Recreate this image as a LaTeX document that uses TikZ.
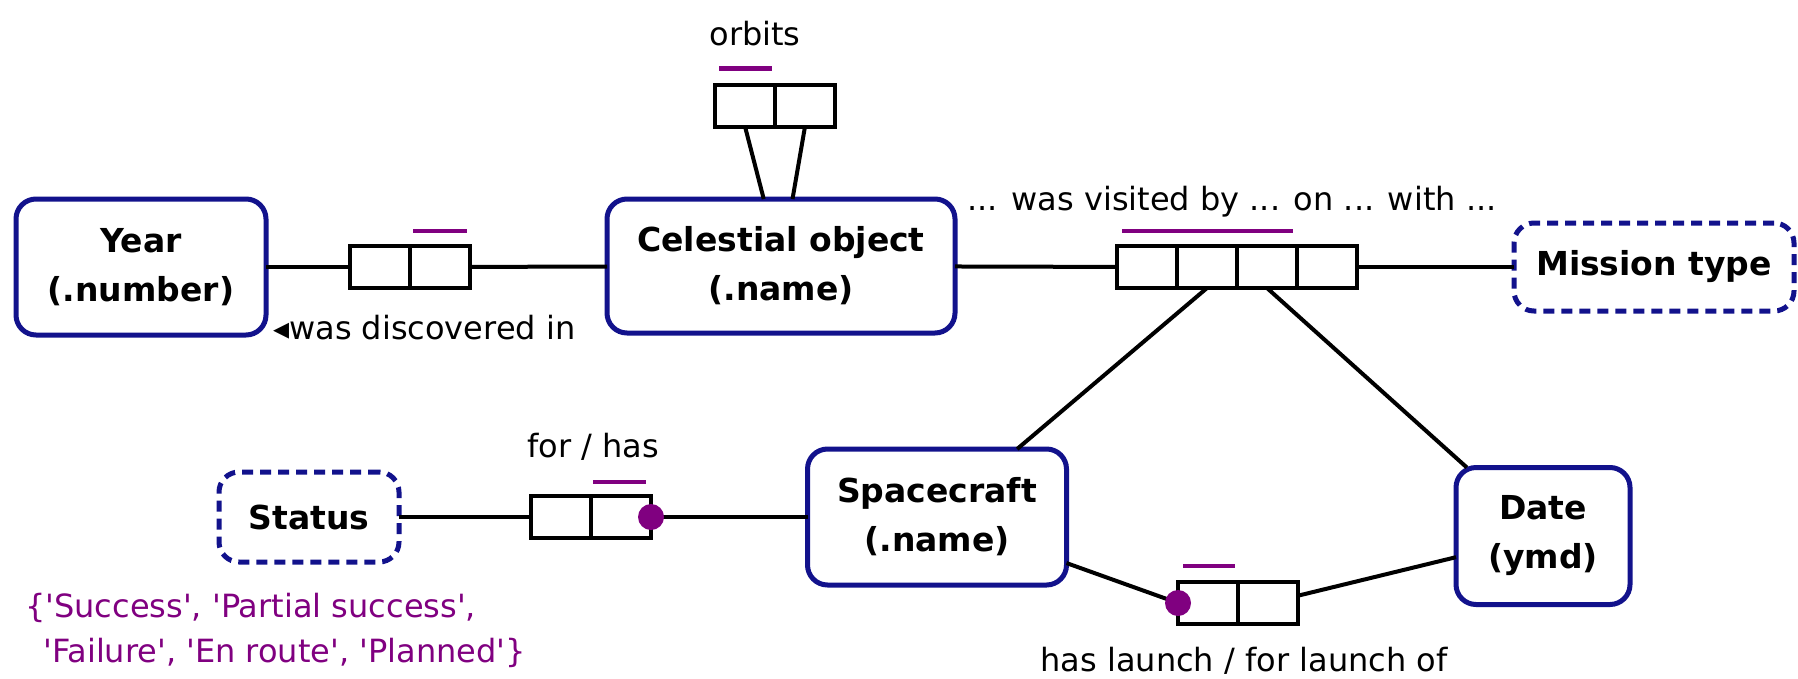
\documentclass[tikz,border=0pt]{standalone}
\usepackage{fontspec}
\setmainfont{DejaVu Sans}[Ligatures=TeXOff]
\usetikzlibrary{calc}

\definecolor{boxblue}{RGB}{18,18,140}
\definecolor{rolepurple}{RGB}{128,0,128}

\newcommand\entfont{\bfseries\fontsize{33}{49}\selectfont}
\newcommand\lblfont{\fontsize{32}{45}\selectfont}

\tikzset{
  entity/.style={draw=boxblue, line width=5pt, rounded corners=20pt,
    align=center, font=\entfont, inner sep=0pt, outer sep=0pt},
  valuetype/.style={entity, dash pattern=on 11pt off 7pt},
  cell/.style={draw=black, line width=4pt, minimum width=60pt,
    minimum height=42pt, inner sep=0pt, outer sep=0pt},
  link/.style={draw=black, line width=4pt},
  uniq/.style={draw=rolepurple, line width=4.5pt},
  mandatory/.style={circle, fill=rolepurple, minimum size=26pt, inner sep=0pt},
  lbl/.style={font=\lblfont, inner sep=0pt},
  values/.style={lbl, text=rolepurple}
}

\begin{document}
\begin{tikzpicture}[x=1pt, y=-1pt]
\useasboundingbox (0,0) rectangle (1798,678);

% entity types
\node[entity, minimum width=250pt, minimum height=136pt] (year) at (141,267) {Year\\(.number)};
\node[entity, minimum width=348pt, minimum height=134pt] (cel)  at (781,266) {Celestial object\\(.name)};
\node[entity, minimum width=259pt, minimum height=136pt] (sc)   at (937,517) {Spacecraft\\(.name)};
\node[entity, minimum width=174pt, minimum height=137pt] (date) at (1543,536) {Date\\(ymd)};

% value types
\node[valuetype, minimum width=280pt, minimum height=88pt] (mission) at (1654,267) {Mission type};
\node[valuetype, minimum width=180pt, minimum height=90pt] (status)  at (309,517) {Status};

% fact types (role boxes)
\node[cell, anchor=west] (d1) at (350,267) {};
\node[cell, anchor=west] (d2) at (d1.east) {};

\node[cell, anchor=west] (o1) at (715,105.5) {};
\node[cell, anchor=west] (o2) at (o1.east) {};

\node[cell, anchor=west] (v1) at (1117,267) {};
\node[cell, anchor=west] (v2) at (v1.east) {};
\node[cell, anchor=west] (v3) at (v2.east) {};
\node[cell, anchor=west] (v4) at (v3.east) {};

\node[cell, anchor=west] (f1) at (531,517) {};
\node[cell, anchor=west] (f2) at (f1.east) {};

\node[cell, anchor=west] (l1) at (1178,603) {};
\node[cell, anchor=west] (l2) at (l1.east) {};

% role connectors
\draw[link] (year) -- (d1);
\draw[link] (d2) -- (cel);
\draw[link] (o1.south) -- (cel);
\draw[link] (o2.south) -- (cel);
\draw[link] (cel) -- (v1);
\draw[link] (v4) -- (mission);
\draw[link] (v2.south) -- (sc);
\draw[link] (v3.south) -- (date);
\draw[link] (status) -- (f1);
\draw[link] (f2) -- (sc);
\draw[link] (sc) -- (l1.west);
\draw[link] (l2) -- (date);

% mandatory role dots
\node[mandatory] (fdot) at (f2.east) {};
\node[mandatory] (ldot) at (l1.west) {};

% uniqueness constraints
\draw[uniq] ($(d2.north west)+(3,-15)$) -- ($(d2.north east)+(-3,-15)$);
\draw[uniq] ($(o1.north west)+(4,-16)$) -- ($(o1.north east)+(-3,-16)$);
\draw[uniq] ($(v1.north west)+(5,-15)$) -- ($(v3.north east)+(-4,-15)$);
\draw[uniq] ($(f2.north west)+(2,-14)$) -- ($(f2.north east)+(-5,-14)$);
\draw[uniq] ($(l1.north west)+(5,-16)$) -- ($(l1.north east)+(-3,-16)$);

% fact type readings
\node[lbl, anchor=base] (orbitslbl) at (755,45) {orbits};
\node[lbl, anchor=base west] (disclbl) at (273,339) {◂was discovered in};
\node[lbl, anchor=base] (visitlbl) at (1232,210) {... was visited by ... on ... with ...};
\node[lbl, anchor=base] (forlbl) at (593,457) {for / has};
\node[lbl, anchor=base] (launchlbl) at (1244,671) {has launch / for launch of};

% value constraint
\node[values, anchor=base west] (vals1) at (25,617) {\{'Success', 'Partial success',};
\node[values, anchor=base west] (vals2) at (43,662) {'Failure', 'En route', 'Planned'\}};
\end{tikzpicture}
\end{document}
